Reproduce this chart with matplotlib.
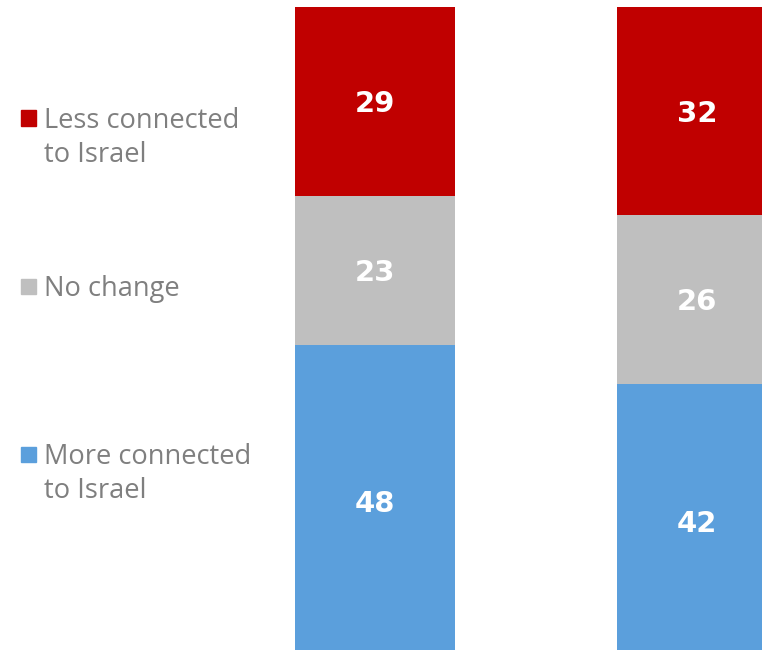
import matplotlib
matplotlib.use("Agg")
import matplotlib.pyplot as plt
from matplotlib.patches import Rectangle
import numpy as np

plt.rcParams['font.family'] = ['Open Sans', 'DejaVu Sans']

# values (percent)
groups = ["A", "B"]
more_connected = [48, 42]
no_change = [23, 26]
less_connected = [29, 32]

series_names = ["More connected\nto Israel", "No change", "Less connected\nto Israel"]
colors = ["#5b9fdc", "#bfbfbf", "#c00000"]

W, H = 762, 650
fig = plt.figure(figsize=(W / 100, H / 100), dpi=100)
ax = fig.add_axes([0, 0, 1, 1])

x = np.arange(len(groups))
bar_w = 160 / 322
bottom = np.zeros(len(groups))
for vals, col in zip([more_connected, no_change, less_connected], colors):
    vals = np.array(vals, dtype=float)
    ax.bar(x, vals, bottom=bottom, width=bar_w, color=col, linewidth=0)
    for xi, b, v in zip(x, bottom, vals):
        ax.text(xi, b + v / 2, f"{v:.0f}", ha="center", va="center_baseline",
                color="white", fontsize=21, fontweight="bold",
                family="DejaVu Sans")
    bottom += vals

# map data space so bars sit where they are in the reference
# (bars run slightly past the bottom edge, ~6.5 px per percent)
px = 6.5
ax.set_xlim(-375 / 322, (W - 375) / 322)
ax.set_ylim(7 / px, 100 + 7 / px)
ax.axis("off")

# legend drawn by hand (positions in pixels from the top-left)
legend_rows = [
    (series_names[2], colors[2], 118, 151.5),
    (series_names[1], colors[1], 286, None),
    (series_names[0], colors[0], 454, 487),
]
for label, col, y1, y2 in legend_rows:
    fig.patches.append(Rectangle((21 / W, 1 - (y1 + 7.5) / H), 15 / W, 15 / H,
                                 transform=fig.transFigure, color=col))
    lines = label.split("\n")
    ys = [y1] if y2 is None else [y1, y2]
    for line, yy in zip(lines, ys):
        fig.text(44 / W, 1 - yy / H, line, ha="left", va="center_baseline",
                 color="#7f7f7f", fontsize=19.6)

fig.savefig("out.png", dpi=100)
